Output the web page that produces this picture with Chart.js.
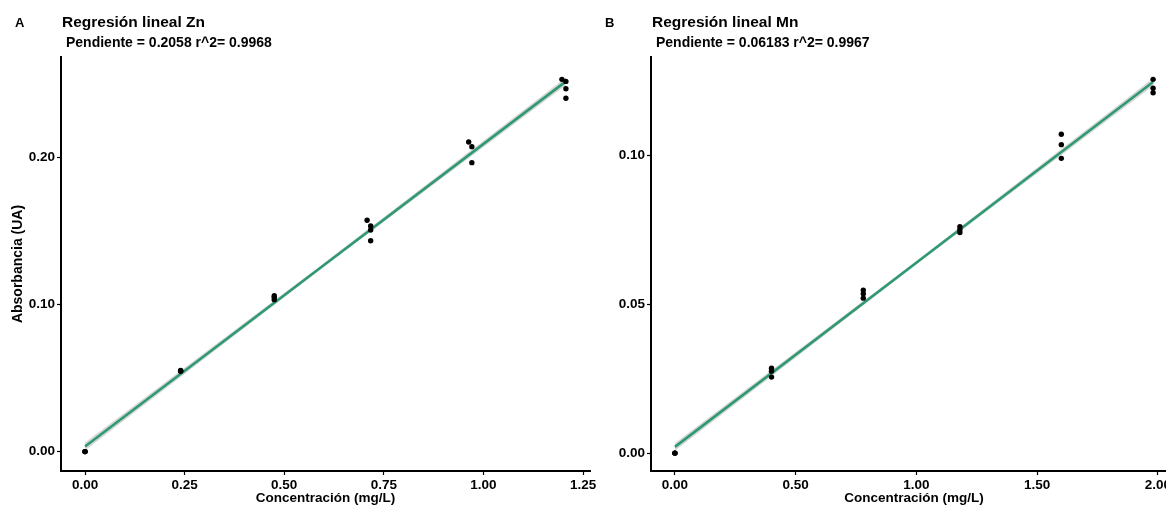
<!DOCTYPE html>
<html>
<head>
<meta charset="utf-8">
<script src="https://cdn.jsdelivr.net/npm/chart.js@4.4.0/dist/chart.umd.min.js"></script>
<style>
  html, body { margin: 0; padding: 0; background: #fff; overflow: hidden; width: 1166px; height: 506px; }
  canvas { position: absolute; top: 0; }
  #chartA { left: 0; }
  #chartB { left: 590px; }
</style>
</head>
<body>
<canvas id="chartA" width="600" height="506"></canvas>
<canvas id="chartB" width="600" height="506"></canvas>
<script>
// Zn calibration
const znConc = [0, 0, 0, 0.240, 0.240, 0.240, 0.475, 0.475, 0.475, 0.708, 0.717, 0.717, 0.717, 0.963, 0.971, 0.971, 1.197, 1.207, 1.207, 1.207];
const znAbs  = [0, 0, 0, 0.0553, 0.0549, 0.0546, 0.1061, 0.1050, 0.1034, 0.1574, 0.1535, 0.1508, 0.1435, 0.2107, 0.2075, 0.1966, 0.2533, 0.2519, 0.2469, 0.2404];
const znFitX = [0, 0.60, 1.207];
const znFitY = [0.0035, 0.1270, 0.2519];
const znBandLo = [0.0008, 0.1257, 0.2492];
const znBandHi = [0.0062, 0.1283, 0.2546];
const znXTicks = [0, 0.25, 0.50, 0.75, 1.00, 1.25];
const znYTicks = [0, 0.10, 0.20];

// Mn calibration
const mnConc = [0, 0, 0, 0.40, 0.40, 0.40, 0.78, 0.78, 0.78, 1.18, 1.18, 1.18, 1.60, 1.60, 1.60, 1.98, 1.98, 1.98];
const mnAbs  = [0, 0, 0, 0.0285, 0.0275, 0.0255, 0.0547, 0.0535, 0.0520, 0.0760, 0.0750, 0.0740, 0.1070, 0.1035, 0.0989, 0.1254, 0.1224, 0.1209];
const mnFitX = [0, 0.99, 1.98];
const mnFitY = [0.0021, 0.0633, 0.1245];
const mnBandLo = [0.0008, 0.0627, 0.1232];
const mnBandHi = [0.0034, 0.0639, 0.1258];
const mnXTicks = [0, 0.50, 1.00, 1.50, 2.00];
const mnYTicks = [0, 0.05, 0.10];

const FONT = '"Liberation Sans", Arial, sans-serif';
const GREEN = '#2f9a72';

const toXY = (xs, ys) => xs.map((x, i) => ({ x: x, y: ys[i] }));

// letter, title and subtitle above each panel
const panelText = {
    id: 'panelText',
    afterDraw(chart, args, opts) {
        const ctx = chart.ctx;
        const left = chart.chartArea.left;
        ctx.save();
        ctx.fillStyle = '#000';
        ctx.textBaseline = 'alphabetic';
        ctx.font = 'bold 13px ' + FONT;
        ctx.fillText(opts.letter, 15, 27);
        ctx.font = 'bold 15.5px ' + FONT;
        ctx.fillText(opts.title, left + 1, 27);
        ctx.font = 'bold 14px ' + FONT;
        ctx.fillText(opts.subtitle, left + 5, 47);
        ctx.restore();
    }
};

function makePanel(canvasId, p) {
    const ctx = document.getElementById(canvasId).getContext('2d');
    return new Chart(ctx, {
        type: 'scatter',
        data: {
            datasets: [
                {
                    data: toXY(p.x, p.y),
                    backgroundColor: '#000',
                    borderWidth: 0,
                    pointRadius: 2.7,
                    order: 0
                },
                {
                    data: toXY(p.fitX, p.fitY),
                    showLine: true,
                    borderColor: GREEN,
                    borderWidth: 2.6,
                    pointRadius: 0,
                    order: 1
                },
                {
                    data: toXY(p.fitX, p.bandHi),
                    showLine: true,
                    borderWidth: 0,
                    pointRadius: 0,
                    fill: '+1',
                    backgroundColor: 'rgba(150,150,150,0.38)',
                    order: 2
                },
                {
                    data: toXY(p.fitX, p.bandLo),
                    showLine: true,
                    borderWidth: 0,
                    pointRadius: 0,
                    order: 3
                }
            ]
        },
        options: {
            responsive: false,
            animation: false,
            layout: { padding: { left: 0, right: p.padRight, top: 57, bottom: 0 } },
            plugins: {
                legend: { display: false },
                tooltip: { enabled: false },
                panelText: { letter: p.letter, title: p.title, subtitle: p.subtitle }
            },
            scales: {
                x: {
                    type: 'linear',
                    min: p.xMin,
                    max: p.xMax,
                    afterBuildTicks: (s) => { s.ticks = p.xTicks.map(v => ({ value: v })); },
                    afterFit: (s) => { s.height = 35; },
                    ticks: {
                        color: '#000',
                        padding: 2,
                        maxRotation: 0,
                        font: { family: FONT, size: 13.5, weight: 'bold' },
                        callback: (v) => v.toFixed(2)
                    },
                    grid: { drawOnChartArea: false, tickLength: 4, tickColor: '#000', tickWidth: 1.2 },
                    border: { display: true, color: '#000', width: 2 },
                    title: {
                        display: true,
                        text: 'Concentración (mg/L)',
                        color: '#000',
                        padding: { top: 0, bottom: 1 },
                        font: { family: FONT, size: 13.5, weight: 'bold', lineHeight: 1 }
                    }
                },
                y: {
                    type: 'linear',
                    min: p.yMin,
                    max: p.yMax,
                    afterBuildTicks: (s) => { s.ticks = p.yTicks.map(v => ({ value: v })); },
                    afterFit: (s) => { s.width = 61; },
                    ticks: {
                        color: '#000',
                        padding: 2,
                        font: { family: FONT, size: 13.5, weight: 'bold' },
                        callback: (v) => v.toFixed(2)
                    },
                    grid: { drawOnChartArea: false, tickLength: 4, tickColor: '#000', tickWidth: 1.2 },
                    border: { display: true, color: '#000', width: 2 },
                    title: {
                        display: p.yTitle !== '',
                        text: p.yTitle,
                        color: '#000',
                        padding: { top: 11, bottom: 0 },
                        font: { family: FONT, size: 14, weight: 'bold', lineHeight: 1 }
                    }
                }
            }
        },
        plugins: [panelText]
    });
}

makePanel('chartA', {
    letter: 'A', title: 'Regresión lineal Zn', subtitle: 'Pendiente = 0.2058 r^2= 0.9968',
    x: znConc, y: znAbs, fitX: znFitX, fitY: znFitY, bandLo: znBandLo, bandHi: znBandHi,
    xTicks: znXTicks, yTicks: znYTicks,
    xMin: -0.0603, xMax: 1.2675, yMin: -0.0132, yMax: 0.2685,
    yTitle: 'Absorbancia (UA)', padRight: 10
});

makePanel('chartB', {
    letter: 'B', title: 'Regresión lineal Mn', subtitle: 'Pendiente = 0.06183 r^2= 0.9967',
    x: mnConc, y: mnAbs, fitX: mnFitX, fitY: mnFitY, bandLo: mnBandLo, bandHi: mnBandHi,
    xTicks: mnXTicks, yTicks: mnYTicks,
    xMin: -0.099, xMax: 2.079, yMin: -0.006, yMax: 0.1329,
    yTitle: '', padRight: 13
});
</script>
</body>
</html>
